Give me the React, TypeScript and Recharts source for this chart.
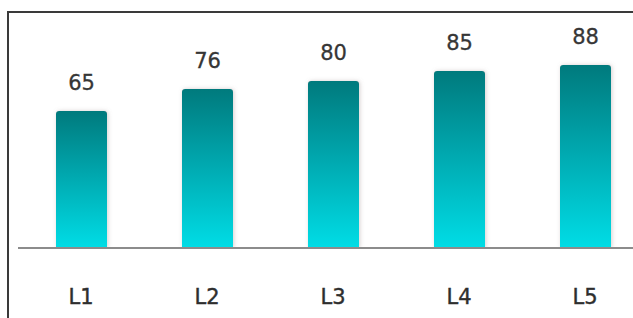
import React from 'react';
import { BarChart, Bar, XAxis, YAxis, LabelList } from 'recharts';

const categories = ['L1', 'L2', 'L3', 'L4', 'L5'];
const values = [65, 76, 80, 85, 88];

const Y_AXIS_MIN = -3.4;
const Y_AXIS_MAX = 100;

const data = categories.map((name, i) => ({ name, value: values[i] }));

const FONT = '"DejaVu Sans", Verdana, sans-serif';

export default function App() {
  return (
    <div
      style={{
        position: 'fixed',
        left: 0,
        top: 0,
        width: 633,
        height: 318,
        overflow: 'hidden',
        background: '#ffffff',
      }}
    >
      <div
        style={{
          position: 'absolute',
          left: 7,
          top: 11,
          width: 700,
          height: 400,
          borderLeft: '2px solid #3a3a3a',
          borderTop: '2px solid #3a3a3a',
          boxSizing: 'border-box',
        }}
      />
      <div style={{ position: 'absolute', left: 0, top: 0 }}>
        <BarChart
          width={660}
          height={318}
          data={data}
          margin={{ top: 41, right: 12, bottom: 40, left: 18 }}
          barCategoryGap={0}
        >
          <defs>
            <linearGradient id="barGrad" x1="0" y1="0" x2="0" y2="1">
              <stop offset="0%" stopColor="#057a7d" />
              <stop offset="45%" stopColor="#00a6ad" />
              <stop offset="100%" stopColor="#00dde6" />
            </linearGradient>
            <filter id="barShadow" x="-20%" y="-10%" width="140%" height="120%">
              <feDropShadow dx="1" dy="0" stdDeviation="2" floodColor="#8a7a7a" floodOpacity="0.35" />
            </filter>
          </defs>
          <XAxis
            dataKey="name"
            axisLine={{ stroke: '#8c8c8c', strokeWidth: 2 }}
            tickLine={false}
            tickSize={0}
            tickMargin={41}
            height={30}
            interval={0}
            tick={{ fill: '#2e2e2e', stroke: '#2e2e2e', strokeWidth: 0.4, fontSize: 21, fontFamily: FONT }}
          />
          <YAxis hide domain={[Y_AXIS_MIN, Y_AXIS_MAX]} allowDataOverflow />
          <Bar
            dataKey={(d: { value: number }) => [Y_AXIS_MIN, d.value]}
            barSize={51}
            fill="url(#barGrad)"
            radius={[3, 3, 0, 0]}
            style={{ filter: 'url(#barShadow)' }}
            isAnimationActive={false}
          >
            <LabelList
              dataKey="value"
              position="top"
              offset={21}
              fill="#363636"
              stroke="#363636"
              strokeWidth={0.3}
              style={{ fontSize: 21, fontFamily: FONT }}
            />
          </Bar>
        </BarChart>
      </div>
    </div>
  );
}
